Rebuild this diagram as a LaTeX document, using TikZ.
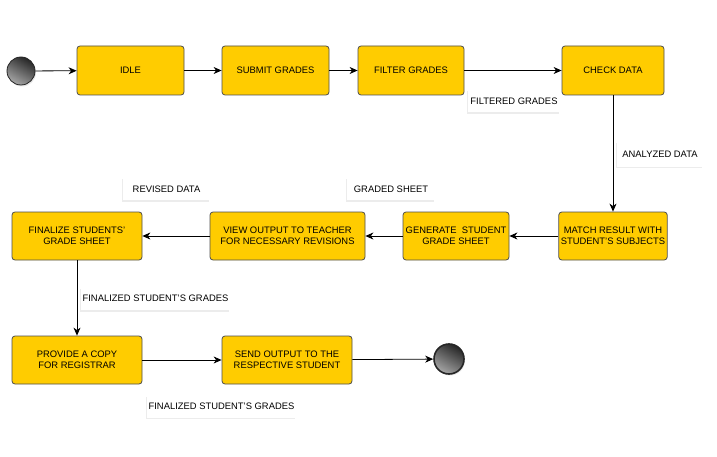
\documentclass[tikz,border=0pt]{standalone}
\usepackage{fontspec}
\setmainfont{Liberation Sans}
\usetikzlibrary{arrows.meta,shadows}
\definecolor{boxfill}{HTML}{FFCC00}
\definecolor{boxline}{HTML}{4D4D4D}
\tikzset{
  statebox/.style={draw=boxline, line width=0.8pt, fill=boxfill, rounded corners=3pt,
    align=center, font=\fontsize{9.4}{11.5}\selectfont, inner sep=2pt},
  flowlabel/.style={fill=white, inner sep=2pt, font=\fontsize{9.4}{11.5}\selectfont,
    drop shadow={shadow xshift=-1pt, shadow yshift=-1.5pt, opacity=0.15, fill=gray}},
  termcirc/.style={circle, draw=black!85, left color=black!85, right color=black!35,
    shading angle=-30, drop shadow={shadow xshift=1pt, shadow yshift=-1.5pt, opacity=0.2}},
  flow/.style={line width=0.8pt, -{Stealth[length=8pt,width=7pt,inset=2.5pt]}},
}
\begin{document}
\begin{tikzpicture}[x=1pt,y=-1pt]
\useasboundingbox (0,0) rectangle (717,457);
% terminals
\node[termcirc, line width=0.8pt, minimum size=28pt, inner sep=0pt] (start) at (21,71) {};
\node[termcirc, line width=1.6pt, minimum size=30pt, inner sep=0pt] (end) at (449,359) {};
% boxes
\node[statebox, minimum width=107pt, minimum height=49pt] (idle) at (130.5,70.5) {IDLE};
\node[statebox, minimum width=107pt, minimum height=49pt] (submit) at (275.5,70.5) {SUBMIT GRADES};
\node[statebox, minimum width=106pt, minimum height=49pt] (filter) at (411,70.5) {FILTER GRADES};
\node[statebox, minimum width=102pt, minimum height=49pt] (check) at (613,70.5) {CHECK DATA};
\node[statebox, minimum width=106pt, minimum height=48pt] (match) at (613,236) {MATCH RESULT WITH\\STUDENT'S SUBJECTS};
\node[statebox, minimum width=106pt, minimum height=48pt] (gen) at (456,236) {GENERATE\ \ STUDENT\\GRADE SHEET};
\node[statebox, minimum width=155pt, minimum height=48pt] (view) at (287.5,236) {VIEW OUTPUT TO TEACHER\\FOR NECESSARY REVISIONS};
\node[statebox, minimum width=130pt, minimum height=48pt] (final) at (77,236) {FINALIZE STUDENTS'\\GRADE SHEET};
\node[statebox, minimum width=130pt, minimum height=48pt] (provide) at (77,360) {PROVIDE A COPY\\FOR REGISTRAR};
\node[statebox, minimum width=130pt, minimum height=48pt] (send) at (287,360) {SEND OUTPUT TO THE\\RESPECTIVE STUDENT};
% labels
\node[flowlabel, minimum width=88pt, minimum height=23pt] (lfilt) at (514,101) {FILTERED GRADES};
\node[flowlabel, minimum width=86pt, minimum height=25pt] (lanal) at (660,154.5) {ANALYZED DATA};
\node[flowlabel, minimum width=88pt, minimum height=23pt] (lgrad) at (391,189) {GRADED SHEET};
\node[flowlabel, minimum width=87pt, minimum height=23pt] (lrev) at (166.5,189) {REVISED DATA};
\node[flowlabel, minimum width=145pt, minimum height=23pt] (lfin1) at (155.5,298.5) {FINALIZED STUDENT'S GRADES};
\node[flowlabel, minimum width=143pt, minimum height=22pt] (lfin2) at (221.5,406.5) {FINALIZED STUDENT'S GRADES};
% connectors
\draw[flow] (start) -- (idle);
\draw[flow] (idle) -- (submit);
\draw[flow] (submit) -- (filter);
\draw[flow] (filter) -- (check);
\draw[flow] (check) -- (match);
\draw[flow] (match) -- (gen);
\draw[flow] (gen) -- (view);
\draw[flow] (view) -- (final);
\draw[flow] (final) -- (provide);
\draw[flow] (provide) -- (send);
\draw[flow] (send) -- (end);
\end{tikzpicture}
\end{document}
